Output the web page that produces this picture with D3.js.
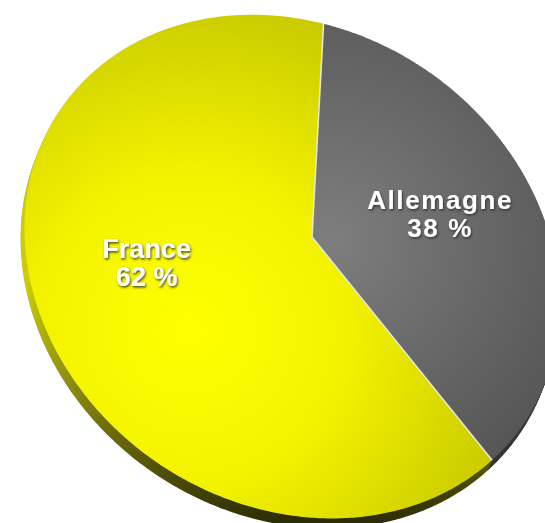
<!DOCTYPE html>
<html>
<head>
<meta charset="utf-8">
<script src="https://cdn.jsdelivr.net/npm/d3@7"></script>
<style>
  html, body { margin: 0; padding: 0; background: #ffffff; }
  svg { display: block; }
</style>
</head>
<body>
<svg id="chart" width="545" height="523"></svg>
<script>
// ---- data ----
const categories = ["Allemagne", "France"];
const values = [38, 62];
const valueLabels = ["38 %", "62 %"];

// ---- styles / geometry ----
const W = 545, H = 523;
const center = [312, 237];          // projected pie centre
const startDeg = 7.3;               // rotation of the first slice
const tiltK = 0.15;                 // perspective strength
const axisDeg = 34;                 // orientation of the tilt
const scaleNear = 232.6, scaleSide = 276.8;
const rimOffset = [-4, 10];
const labelR = 0.585;
const labelDx = -9;

const e1 = [Math.cos(axisDeg * Math.PI / 180), Math.sin(axisDeg * Math.PI / 180)];
const nv = [-Math.sin(axisDeg * Math.PI / 180), Math.cos(axisDeg * Math.PI / 180)];

function project(theta, r) {
  const u = r * Math.sin(theta), v = -r * Math.cos(theta);
  const pn = u * nv[0] + v * nv[1];
  const pt = u * e1[0] + v * e1[1];
  const D = 1 - tiltK * pn;
  const qn = pn / D, qt = pt / D;
  return [center[0] + scaleNear * qn * nv[0] + scaleSide * qt * e1[0],
          center[1] + scaleNear * qn * nv[1] + scaleSide * qt * e1[1]];
}

const svg = d3.select("#chart");
svg.append("rect").attr("width", W).attr("height", H).attr("fill", "#ffffff");

const defs = svg.append("defs");
const gy = defs.append("radialGradient").attr("id", "gYellow")
  .attr("gradientUnits", "userSpaceOnUse").attr("cx", 190).attr("cy", 330).attr("r", 340);
gy.append("stop").attr("offset", 0).attr("stop-color", "#ffff00");
gy.append("stop").attr("offset", 0.45).attr("stop-color", "#f3f300");
gy.append("stop").attr("offset", 1).attr("stop-color", "#c8c800");

const gg = defs.append("radialGradient").attr("id", "gGray")
  .attr("gradientUnits", "userSpaceOnUse").attr("cx", 330).attr("cy", 240).attr("r", 270);
gg.append("stop").attr("offset", 0).attr("stop-color", "#7e7e7e");
gg.append("stop").attr("offset", 1).attr("stop-color", "#565656");

const gr = defs.append("linearGradient").attr("id", "gRim")
  .attr("gradientUnits", "userSpaceOnUse").attr("x1", 0).attr("y1", 280).attr("x2", 0).attr("y2", 525);
gr.append("stop").attr("offset", 0).attr("stop-color", "#cccc00");
gr.append("stop").attr("offset", 0.4).attr("stop-color", "#8c8c10");
gr.append("stop").attr("offset", 0.7).attr("stop-color", "#5a5a08");
gr.append("stop").attr("offset", 1).attr("stop-color", "#262604");

const grg = defs.append("linearGradient").attr("id", "gRimGray")
  .attr("gradientUnits", "userSpaceOnUse").attr("x1", 0).attr("y1", 280).attr("x2", 0).attr("y2", 525);
grg.append("stop").attr("offset", 0).attr("stop-color", "#4a4a4a");
grg.append("stop").attr("offset", 1).attr("stop-color", "#2a2a2a");

const f = defs.append("filter").attr("id", "txtShadow")
  .attr("x", "-20%").attr("y", "-30%").attr("width", "140%").attr("height", "160%");
f.append("feDropShadow").attr("dx", 1).attr("dy", 1.5).attr("stdDeviation", 1.1)
  .attr("flood-color", "#2a2a2a").attr("flood-opacity", 0.85);

const faceFill = { "Allemagne": "url(#gGray)", "France": "url(#gYellow)" };
const rimFill = { "Allemagne": "url(#gRimGray)", "France": "url(#gRim)" };

const start = startDeg * Math.PI / 180;
const pie = d3.pie().sort(null).value(d => d.value)
  .startAngle(start).endAngle(start + 2 * Math.PI);
const arcs = pie(categories.map((c, i) => ({ name: c, value: values[i], label: valueLabels[i] })));

const line = d3.line();
function slicePts(a) {
  const step = Math.PI / 360;
  const angs = d3.range(a.startAngle, a.endAngle, step).concat([a.endAngle]);
  return [project(0, 0)].concat(angs.map(t => project(t, 1)));
}

// rim (thickness)
const rimG = svg.append("g");
d3.range(1, 0, -0.1).forEach(t => {
  rimG.append("g").attr("transform", `translate(${rimOffset[0] * t},${rimOffset[1] * t})`)
    .selectAll("path").data(arcs).join("path")
    .attr("d", a => line(slicePts(a)) + "Z")
    .attr("fill", a => rimFill[a.data.name]);
});

// faces
svg.append("g").selectAll("path").data(arcs).join("path")
  .attr("d", a => line(slicePts(a)) + "Z")
  .attr("fill", a => faceFill[a.data.name]);

// dividers
svg.append("g").selectAll("line").data(arcs).join("line")
  .attr("x1", center[0]).attr("y1", center[1])
  .attr("x2", a => project(a.startAngle, 1)[0])
  .attr("y2", a => project(a.startAngle, 1)[1])
  .attr("stroke", "#e4e4ee").attr("stroke-width", 1.6);

// labels
const lab = svg.append("g").attr("filter", "url(#txtShadow)")
  .selectAll("text").data(arcs).join("text")
  .attr("text-anchor", "middle")
  .attr("font-family", "'Liberation Sans', Arial, Helvetica, sans-serif")
  .attr("font-weight", "bold")
  .attr("font-size", a => a.data.name === "France" ? 27 : 26)
  .attr("letter-spacing", a => a.data.name === "France" ? 0 : 1.6)
  .attr("fill", "#ffffff");
lab.each(function (a) {
  const mid = (a.startAngle + a.endAngle) / 2;
  const p = project(mid, labelR);
  const t = d3.select(this);
  t.append("tspan").attr("x", p[0] + labelDx).attr("y", p[1] - 5).text(a.data.name);
  t.append("tspan").attr("x", p[0] + labelDx).attr("y", p[1] + 23).text(a.data.label);
});
</script>
</body>
</html>
